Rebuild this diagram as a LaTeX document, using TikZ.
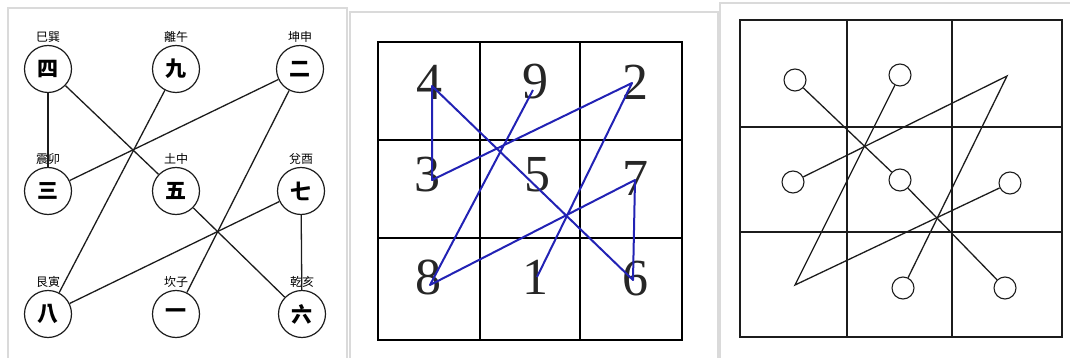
\documentclass[tikz,border=0pt]{standalone}
\usepackage{fontspec}
\setmainfont{Liberation Serif}
\newfontfamily\cjk{Noto Sans CJK TC}
\usepackage{tikz}
\usetikzlibrary{positioning}
\definecolor{ink}{HTML}{1C1C1C}
\definecolor{trail}{HTML}{2222B4}
\definecolor{edge}{HTML}{DADADA}

\begin{document}
\begin{tikzpicture}[
  x=1pt, y=-1pt,
  edge/.style={draw=edge, line width=1.2pt},
  palace/.style={circle, draw=ink, line width=1.2pt, minimum size=47pt,
                 inner sep=0pt, font=\cjk\bfseries\fontsize{21}{21}\selectfont},
  tag/.style={inner sep=0pt, font=\cjk\fontsize{12}{12}\selectfont},
  link/.style={draw=ink, line width=1.3pt},
  cell/.style={draw=black, line width=2.6pt},
  digit/.style={inner sep=0pt, font=\fontsize{52}{52}\selectfont, text=black!85},
  trailline/.style={draw=trail, line width=2pt, line join=round},
  box/.style={draw=ink, line width=1.5pt},
  dot/.style={circle, draw=ink, line width=1.1pt, minimum size=22pt, inner sep=0pt},
]
\useasboundingbox (0,0) rectangle (1070,358);

% panel frames
\draw[edge] (8,360) -- (8,8) -- (347,8) -- (347,360);
\draw[edge] (350,360) -- (350,12) -- (718,12) -- (718,360);
\draw[edge] (720,360) -- (720,3) -- (1070,3);

% left: the nine palaces
\foreach \n/\x/\y/\c/\t in {4/48/69/四/巳巽, 9/176/69/九/離午, 2/300/69/二/坤申,
                            3/48/191/三/震卯, 5/176/191/五/土中, 7/301/191/七/兌酉,
                            8/48/314/八/艮寅, 1/176/314/一/坎子, 6/302/314/六/乾亥}
{
  \node[palace] (g\n) at (\x,\y) {\c};
  \node[tag, above=2pt of g\n] (t\n) {\t};
}
\foreach \a/\b in {1/2, 2/3, 3/4, 4/5, 5/6, 6/7, 7/8, 8/9}
  \draw[link] (g\a) -- (g\b);

% middle: the numbered square
\draw[cell] (378,42) rectangle (682,340);
\draw[cell] (480,42) -- (480,340) (580,42) -- (580,340);
\draw[cell] (378,140) -- (682,140) (378,238) -- (682,238);

\foreach \d/\x/\y in {4/429/82, 9/535/82, 2/635/82,
                      3/427/175, 5/537/175, 7/635/178,
                      8/428/277, 1/535/277, 6/635/279}
  \node[digit] (d\d) at (\x,\y) {\d};

\coordinate (b1) at (537,277);
\coordinate (b2) at (632,83);
\coordinate (b3) at (432,180);
\coordinate (b4) at (432,86);
\coordinate (b6) at (633,280);
\coordinate (b7) at (635,180);
\coordinate (b8) at (430,285);
\coordinate (b9) at (533,90);
\draw[trailline] (b1) -- (b2) -- (b3) -- (b4) -- (b6) -- (b7) -- (b8) -- (b9);

% right: the plain diagram
\draw[box] (740,20) rectangle (1062,337);
\draw[box] (847,20) -- (847,337) (952,20) -- (952,337);
\draw[box] (740,127) -- (1062,127) (740,232) -- (1062,232);

\foreach \n/\x/\y in {4/795/80, 9/900/75, 3/793/182, 5/900/180,
                      7/1010/183, 1/903/288, 6/1005/288}
  \node[dot, fill=white] (c\n) at (\x,\y) {};
\coordinate (c2) at (1007,76);
\coordinate (c8) at (795,285);

\draw[link] (c4) -- (c5);
\draw[link] (c5) -- (c6);
\draw[link] (c9) -- (c8) -- (c7);
\draw[link] (c3) -- (c2) -- (c1);

\end{tikzpicture}
\end{document}
